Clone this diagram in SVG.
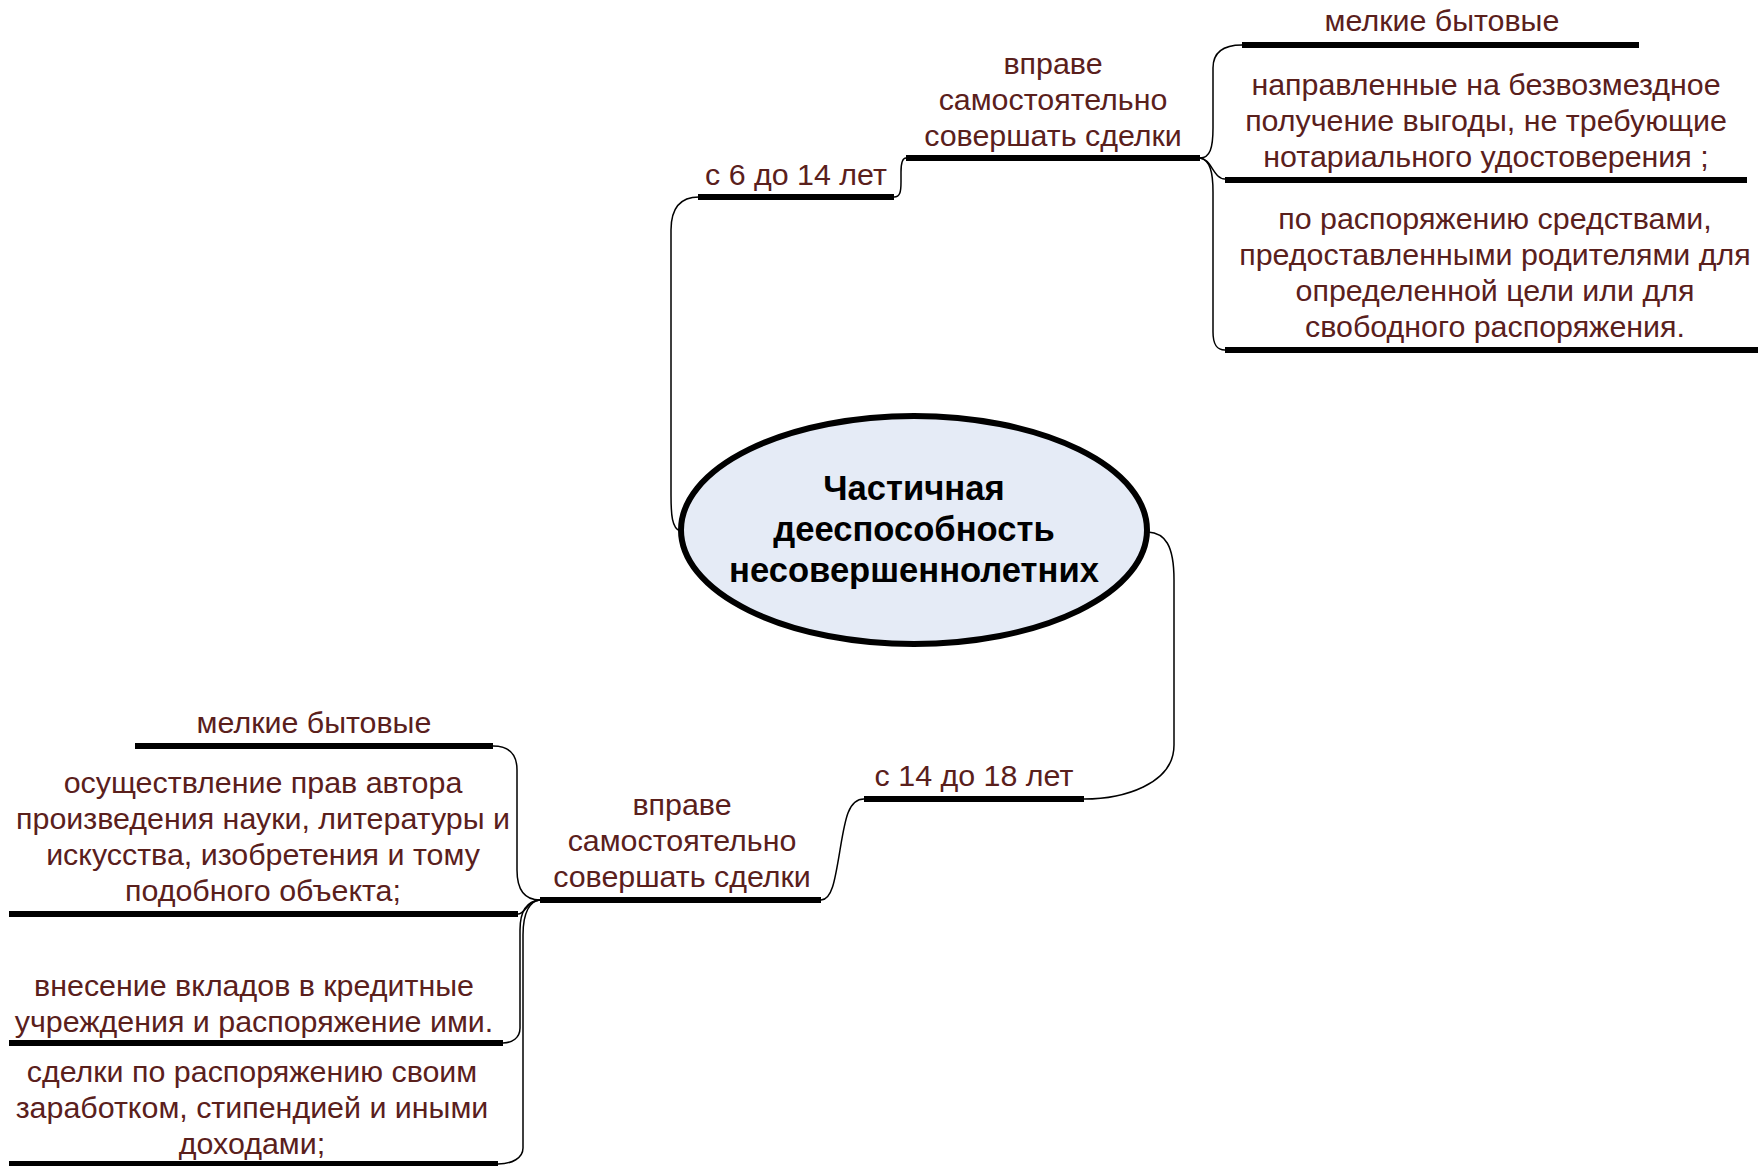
<svg xmlns="http://www.w3.org/2000/svg" width="1758" height="1166" viewBox="0 0 1758 1166">
<style>
.t{font-family:"Liberation Sans",Arial,sans-serif;font-size:30.4px;fill:#5a201c;text-anchor:middle}
.b{font-family:"Liberation Sans",Arial,sans-serif;font-size:34.6px;font-weight:bold;fill:#000;text-anchor:middle}
.u{stroke:#000;stroke-width:6;fill:none}
.c{stroke:#000;stroke-width:1.5;fill:none}
</style>
<rect width="1758" height="1166" fill="#fff"/>
<g id="connectors">
<path class="c" d="M680,531 C672,528 671,515 671,495 L671,230 C671,208 680,197 699,197"/>
<path class="c" d="M894,197 C900,197 901,192 901,182 L901,172 C901,162 903,158 906,158"/>
<path class="c" d="M1200,158 C1210,158 1213,148 1213,128 L1213,68 C1213,52 1224,45 1242,45"/>
<path class="c" d="M1200,158 C1212,159 1213,179 1225,179"/>
<path class="c" d="M1200,158 C1210,160 1213,172 1213,192 L1213,332 C1213,345 1217,350 1225,350"/>
<path class="c" d="M1148,532 C1165,533 1174,545 1174,580 L1174,745 C1174,785 1122,799 1084,799"/>
<path class="c" d="M864,799 C848,799 845,820 840,850 C835,880 832,900 821,900"/>
<path class="c" d="M540,900 C525,900 517,890 517,870 L517,770 C517,752 507,746 493,746"/>
<path class="c" d="M540,900 C528,900 525,914 518,914"/>
<path class="c" d="M540,900 C528,901 520,910 520,930 L520,1028 C520,1038 512,1043 503,1043"/>
<path class="c" d="M540,900 C530,901 523,912 523,935 L523,1148 C523,1158 512,1164 498,1164"/>
</g>
<g id="center">
<ellipse cx="914" cy="530" rx="233" ry="114" fill="#e5ebf6" stroke="#000" stroke-width="6"/>
<text class="b" x="914" y="500">Частичная</text>
<text class="b" x="914" y="541">дееспособность</text>
<text class="b" x="914" y="582">несовершеннолетних</text>
</g>
<g id="n6_14">
<line class="u" x1="698" y1="197" x2="894" y2="197"/>
<text class="t" x="796" y="185">с 6 до 14 лет</text>
</g>
<g id="top_vprave">
<line class="u" x1="906" y1="158" x2="1200" y2="158"/>
<text class="t" x="1053" y="74">вправе</text>
<text class="t" x="1053" y="110">самостоятельно</text>
<text class="t" x="1053" y="146">совершать сделки</text>
</g>
<g id="top_melkie">
<line class="u" x1="1242" y1="45" x2="1639" y2="45"/>
<text class="t" x="1442" y="31">мелкие бытовые</text>
</g>
<g id="top_napr">
<line class="u" x1="1225" y1="180" x2="1747" y2="180"/>
<text class="t" x="1486" y="95">направленные на безвозмездное</text>
<text class="t" x="1486" y="131">получение выгоды, не требующие</text>
<text class="t" x="1486" y="167">нотариального удостоверения ;</text>
</g>
<g id="top_po">
<line class="u" x1="1225" y1="350" x2="1758" y2="350"/>
<text class="t" x="1495" y="229">по распоряжению средствами,</text>
<text class="t" x="1495" y="265">предоставленными родителями для</text>
<text class="t" x="1495" y="301">определенной цели или для</text>
<text class="t" x="1495" y="337">свободного распоряжения.</text>
</g>
<g id="n14_18">
<line class="u" x1="864" y1="799" x2="1084" y2="799"/>
<text class="t" x="974" y="786">с 14 до 18 лет</text>
</g>
<g id="bot_vprave">
<line class="u" x1="540" y1="900" x2="821" y2="900"/>
<text class="t" x="682" y="815">вправе</text>
<text class="t" x="682" y="851">самостоятельно</text>
<text class="t" x="682" y="887">совершать сделки</text>
</g>
<g id="bot_melkie">
<line class="u" x1="135" y1="746" x2="493" y2="746"/>
<text class="t" x="314" y="733">мелкие бытовые</text>
</g>
<g id="bot_osush">
<line class="u" x1="9" y1="914" x2="518" y2="914"/>
<text class="t" x="263" y="793">осуществление прав автора</text>
<text class="t" x="263" y="829">произведения науки, литературы и</text>
<text class="t" x="263" y="865">искусства, изобретения и тому</text>
<text class="t" x="263" y="901">подобного объекта;</text>
</g>
<g id="bot_vnes">
<line class="u" x1="9" y1="1043" x2="503" y2="1043"/>
<text class="t" x="254" y="996">внесение вкладов в кредитные</text>
<text class="t" x="254" y="1032">учреждения и распоряжение ими.</text>
</g>
<g id="bot_sdelki">
<line class="u" x1="9" y1="1164" x2="498" y2="1164"/>
<text class="t" x="252" y="1082">сделки по распоряжению своим</text>
<text class="t" x="252" y="1118">заработком, стипендией и иными</text>
<text class="t" x="252" y="1154">доходами;</text>
</g>
</svg>
